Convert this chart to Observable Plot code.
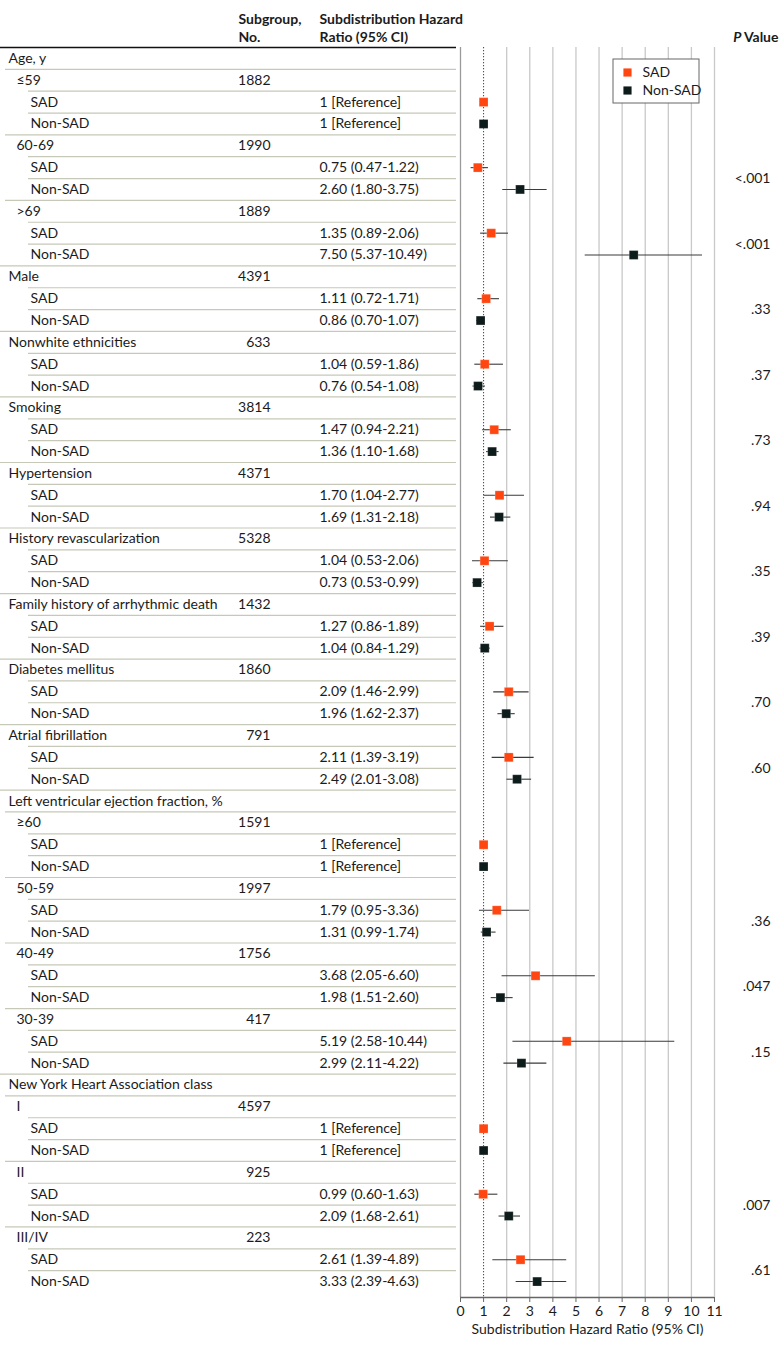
<!DOCTYPE html>
<html>
<head>
<meta charset="utf-8">
<script src="https://cdn.jsdelivr.net/npm/d3@7"></script>
<script src="https://cdn.jsdelivr.net/npm/@observablehq/plot@0.6"></script>
<style>
  body { margin: 0; background: #fff; }
  #chart svg { display: block; }
</style>
</head>
<body>
<div id="chart"></div>
<script>
// ---------- data ----------
const labels = [
  "Age, y", "≤59", "SAD", "Non-SAD", "60-69", "SAD", "Non-SAD", ">69", "SAD", "Non-SAD",
  "Male", "SAD", "Non-SAD",
  "Nonwhite ethnicities", "SAD", "Non-SAD",
  "Smoking", "SAD", "Non-SAD",
  "Hypertension", "SAD", "Non-SAD",
  "History revascularization", "SAD", "Non-SAD",
  "Family history of arrhythmic death", "SAD", "Non-SAD",
  "Diabetes mellitus", "SAD", "Non-SAD",
  "Atrial fibrillation", "SAD", "Non-SAD",
  "Left ventricular ejection fraction, %", "≥60", "SAD", "Non-SAD", "50-59", "SAD", "Non-SAD",
  "40-49", "SAD", "Non-SAD", "30-39", "SAD", "Non-SAD",
  "New York Heart Association class", "I", "SAD", "Non-SAD", "II", "SAD", "Non-SAD",
  "III/IV", "SAD", "Non-SAD"
];
const levels = [
  0, 1, 2, 2, 1, 2, 2, 1, 2, 2,
  0, 2, 2,
  0, 2, 2,
  0, 2, 2,
  0, 2, 2,
  0, 2, 2,
  0, 2, 2,
  0, 2, 2,
  0, 2, 2,
  0, 1, 2, 2, 1, 2, 2,
  1, 2, 2, 1, 2, 2,
  0, 1, 2, 2, 1, 2, 2,
  1, 2, 2
];
const counts = [
  "", "1882", "", "", "1990", "", "", "1889", "", "",
  "4391", "", "",
  "633", "", "",
  "3814", "", "",
  "4371", "", "",
  "5328", "", "",
  "1432", "", "",
  "1860", "", "",
  "791", "", "",
  "", "1591", "", "", "1997", "", "",
  "1756", "", "", "417", "", "",
  "", "4597", "", "", "925", "", "",
  "223", "", ""
];
const hrTexts = [
  "", "", "1 [Reference]", "1 [Reference]", "", "0.75 (0.47-1.22)", "2.60 (1.80-3.75)", "", "1.35 (0.89-2.06)", "7.50 (5.37-10.49)",
  "", "1.11 (0.72-1.71)", "0.86 (0.70-1.07)",
  "", "1.04 (0.59-1.86)", "0.76 (0.54-1.08)",
  "", "1.47 (0.94-2.21)", "1.36 (1.10-1.68)",
  "", "1.70 (1.04-2.77)", "1.69 (1.31-2.18)",
  "", "1.04 (0.53-2.06)", "0.73 (0.53-0.99)",
  "", "1.27 (0.86-1.89)", "1.04 (0.84-1.29)",
  "", "2.09 (1.46-2.99)", "1.96 (1.62-2.37)",
  "", "2.11 (1.39-3.19)", "2.49 (2.01-3.08)",
  "", "", "1 [Reference]", "1 [Reference]", "", "1.79 (0.95-3.36)", "1.31 (0.99-1.74)",
  "", "3.68 (2.05-6.60)", "1.98 (1.51-2.60)", "", "5.19 (2.58-10.44)", "2.99 (2.11-4.22)",
  "", "", "1 [Reference]", "1 [Reference]", "", "0.99 (0.60-1.63)", "2.09 (1.68-2.61)",
  "", "2.61 (1.39-4.89)", "3.33 (2.39-4.63)"
];
// plotted positions
const est = [
  null, null, 1, 1, null, 0.75, 2.58, null, 1.33, 7.50,
  null, 1.11, 0.87,
  null, 1.05, 0.76,
  null, 1.46, 1.37,
  null, 1.69, 1.67,
  null, 1.04, 0.72,
  null, 1.26, 1.05,
  null, 2.09, 1.98,
  null, 2.09, 2.45,
  null, null, 1, 1, null, 1.57, 1.13,
  null, 3.25, 1.73, null, 4.60, 2.64,
  null, null, 1, 1, null, 0.98, 2.09,
  null, 2.60, 3.32
];
const lo = [
  null, null, null, null, null, 0.46, 1.83, null, 0.87, 5.40,
  null, 0.75, 0.70,
  null, 0.62, 0.54,
  null, 0.96, 1.13,
  null, 1.02, 1.30,
  null, 0.52, 0.53,
  null, 0.87, 0.84,
  null, 1.44, 1.62,
  null, 1.37, 2.01,
  null, null, null, null, null, 0.82, 0.90,
  null, 1.80, 1.33, null, 2.27, 1.88,
  null, null, null, null, null, 0.62, 1.67,
  null, 1.40, 2.41
];
const hi = [
  null, null, null, null, null, 1.21, 3.75, null, 2.08, 10.48,
  null, 1.69, 1.07,
  null, 1.86, 1.08,
  null, 2.20, 1.67,
  null, 2.77, 2.18,
  null, 2.07, 0.99,
  null, 1.88, 1.29,
  null, 2.97, 2.37,
  null, 3.19, 3.08,
  null, null, null, null, null, 2.99, 1.54,
  null, 5.84, 2.28, null, 9.28, 3.74,
  null, null, null, null, null, 1.62, 2.60,
  null, 4.60, 4.60
];
const pValues = ["<.001", "<.001", ".33", ".37", ".73", ".94", ".35", ".39", ".70", ".60", ".36", ".047", ".15", ".007", ".61"];
const pRows = [6.5, 9.5, 12.5, 15.5, 18.5, 21.5, 24.5, 27.5, 30.5, 33.5, 40.5, 43.5, 46.5, 53.5, 56.5];
const xTicks = [0, 1, 2, 3, 4, 5, 6, 7, 8, 9, 10, 11];
const gridTicks = [2, 3, 4, 5, 6, 7, 8, 9, 10, 11];
const seriesNames = ["SAD", "Non-SAD"];
const seriesColors = ["#ff4611", "#0d1b1b"];

// ---------- layout ----------
const W = 780, H = 1349;
const mL = 460, mR = 66, mT = 47, mB = 52;
const xDomain = [0, 11];
const yDomain = [0.5, 57.73];
const font = "Lato, 'Open Sans', sans-serif";
const ink = "#1b1b1b";
// convert a page pixel to x data units (for items in the left table margin)
const px = p => (p - mL) / ((W - mL - mR) / (xDomain[1] - xDomain[0])) + xDomain[0];
const rowH = (H - mT - mB) / (yDomain[1] - yDomain[0]);
const py = p => (p - mT) / rowH + yDomain[0];

const rows = labels.map((label, i) => ({
  row: i + 1, label, level: levels[i], n: counts[i], hr: hrTexts[i],
  group: label === "SAD" || label === "Non-SAD" ? label : null,
  est: est[i], lo: lo[i], hi: hi[i]
}));
const textX = [8, 16, 30];
const sepX = [0, 5, 28];
const seps = rows.filter(d => d.row > 1);
const pts = rows.filter(d => d.est != null);
const cis = rows.filter(d => d.lo != null);
const pData = pValues.map((p, i) => ({p, row: pRows[i]}));

const chart = Plot.plot({
  width: W, height: H,
  marginLeft: mL, marginRight: mR, marginTop: mT, marginBottom: mB,
  style: {fontFamily: font, fontSize: "14px", color: ink, background: "#fff"},
  x: {domain: xDomain, ticks: xTicks, tickFormat: d => d, label: null},
  y: {domain: yDomain, reverse: true, axis: null},
  color: {domain: seriesNames, range: seriesColors},
  marks: [
    // grid
    Plot.ruleX(gridTicks, {stroke: "#c9c9c9", strokeWidth: 1.3}),
    Plot.ruleX([1], {stroke: "#444", strokeDasharray: "1.3,1.7", strokeWidth: 1}),
    Plot.ruleX([xDomain[0]], {stroke: "#9a9a9a", strokeWidth: 1.3}),
    Plot.ruleY([yDomain[1]], {stroke: "#666", strokeWidth: 1.3}),
    Plot.axisX({ticks: xTicks, tickSize: 5, tickPadding: 4, fontSize: 14, stroke: "#666", fill: ink, label: null}),
    Plot.text(["Subdistribution Hazard Ratio (95% CI)"], {
      x: (xDomain[0] + xDomain[1]) / 2, frameAnchor: "bottom", dy: 36, fontSize: 14, fill: ink
    }),
    // table separators
    Plot.ruleY(seps, {y: d => d.row - 0.5, x1: d => px(sepX[d.level]), x2: px(456), stroke: "#c6c8b8", strokeWidth: 1.2}),
    Plot.ruleY([0.5], {x1: px(0), x2: px(456), stroke: "#111", strokeWidth: 1.6}),
    // table text
    Plot.text(rows, {x: d => px(textX[d.level]), y: "row", text: "label", textAnchor: "start", fill: ink, fontSize: 14}),
    Plot.text(rows, {x: px(270), y: "row", text: "n", textAnchor: "end", fill: ink, fontSize: 14}),
    Plot.text(rows, {x: px(319), y: "row", text: "hr", textAnchor: "start", fill: ink, fontSize: 14}),
    // header
    Plot.text(["Subgroup,", "No."], {x: px(238), y: (d, i) => py(i === 0 ? 19 : 37), text: d => d, textAnchor: "start", fontWeight: "bold", fill: ink, fontSize: 14}),
    Plot.text(["Subdistribution Hazard", "Ratio (95% CI)"], {x: px(319), y: (d, i) => py(i === 0 ? 19 : 37), text: d => d, textAnchor: "start", fontWeight: "bold", fill: ink, fontSize: 14}),
    Plot.text(["P"], {x: px(741), y: py(37), textAnchor: "end", fontWeight: "bold", fontStyle: "italic", fill: ink, fontSize: 14}),
    Plot.text(["Value"], {x: px(778), y: py(37), textAnchor: "end", fontWeight: "bold", fill: ink, fontSize: 14}),
    // P values
    Plot.text(pData, {x: px(770), y: "row", text: "p", textAnchor: "end", fill: ink, fontSize: 14}),
    // CIs and estimates
    Plot.ruleY(cis, {y: "row", x1: "lo", x2: "hi", stroke: "#3a3a3a", strokeWidth: 1.1}),
    Plot.dot(pts, {x: "est", y: "row", fill: "group", symbol: "square", r: 5, stroke: "#fff", strokeOpacity: 0.35, strokeWidth: 0.6}),
    // legend
    Plot.rect([0], {x1: px(613), x2: px(699), y1: py(59), y2: py(103), fill: "#fff", stroke: "#666", strokeWidth: 1}),
    Plot.dot(seriesNames, {x: px(627), y: (d, i) => py(i === 0 ? 72 : 90), fill: d => d, symbol: "square", r: 4.6}),
    Plot.text(seriesNames, {x: px(642), y: (d, i) => py(i === 0 ? 72 : 90), text: d => d, textAnchor: "start", fill: ink, fontSize: 14})
  ]
});
document.getElementById("chart").appendChild(chart);
</script>
</body>
</html>
